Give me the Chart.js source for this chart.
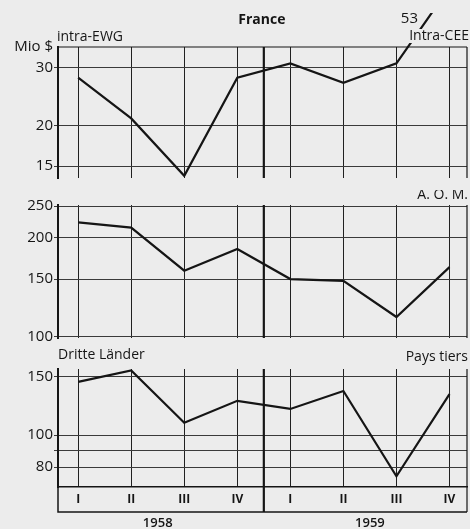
<!DOCTYPE html>
<html><head><meta charset="utf-8">
<script src="https://cdn.jsdelivr.net/npm/chart.js@4/dist/chart.umd.min.js"></script>
<style>
html,body{margin:0;padding:0;background:#ececec;}
#wrap{position:relative;width:470px;height:529px;overflow:hidden;background:#ececec;}
.p{position:absolute;left:0;width:470px;}
</style></head><body>
<div id="wrap">
<div class="p" style="top:0;height:190px"><canvas id="c1"></canvas></div>
<div class="p" style="top:190px;height:162px"><canvas id="c2"></canvas></div>
<div class="p" style="top:345px;height:184px"><canvas id="c3"></canvas></div>
</div>
<script>
// ---- data ----
const quarters = ['I','II','III','IV','I','II','III','IV'];
const years = ['1958','1959'];
const intraEWG = [28, 21, 14, 28, 31, 27, 31, 53];
const aom = [223, 215, 159, 185, 150, 148, 115, 163];
const paysTiers = [145, 157, 109, 127, 120, 136, 75, 133];
const ticks1 = [15, 20, 30];
const tickLabels1 = ['15', '20', '30'];
const ticks2 = [100, 150, 200, 250];
const tickLabels2 = ['100', '150', '200', '250'];
const ticks3 = [80, 90, 100, 150];
const tickLabels3 = ['80', '', '100', '150'];

Chart.defaults.font.family = "'Open Sans', 'DejaVu Sans', sans-serif";
Chart.defaults.color = '#111';

const INK = '#151515';

function txt(ctx, s, x, y, font, align, bg) {
  ctx.save();
  ctx.font = font;
  ctx.textAlign = align;
  ctx.textBaseline = 'middle';
  if (bg) {
    const w = ctx.measureText(s).width;
    let x0 = align === 'right' ? x - w : (align === 'center' ? x - w / 2 : x);
    ctx.fillStyle = '#ececec';
    ctx.fillRect(x0 - 1, y - 7, w + 2, 14);
  }
  ctx.fillStyle = INK;
  ctx.fillText(s, x, y);
  ctx.restore();
}

const deco = {
  id: 'deco',
  afterDraw(chart, args, o) {
    const ctx = chart.ctx, a = chart.chartArea, xs = chart.scales.x;
    const boxH = o.box ? 25 : 0;
    ctx.save();
    ctx.strokeStyle = INK;
    ctx.lineWidth = 1.2;
    ctx.beginPath();
    ctx.moveTo(a.right, a.top); ctx.lineTo(a.right, a.bottom + boxH);
    ctx.stroke();
    if (o.topBorder) {
      ctx.beginPath(); ctx.moveTo(a.left, a.top); ctx.lineTo(a.right, a.top); ctx.stroke();
    }
    const xd = xs.getPixelForValue(3.5);
    ctx.lineWidth = 2.2;
    ctx.beginPath(); ctx.moveTo(xd, a.top); ctx.lineTo(xd, a.bottom + boxH); ctx.stroke();
    if (o.box) {
      ctx.lineWidth = 1.5;
      ctx.beginPath();
      ctx.moveTo(a.left, a.bottom); ctx.lineTo(a.left, a.bottom + boxH);
      ctx.lineTo(a.right, a.bottom + boxH);
      ctx.stroke();
      years.forEach((y, i) => {
        txt(ctx, y, xs.getPixelForValue(1.5 + 4 * i), a.bottom + boxH + 11, '600 13px "Open Sans"', 'center');
      });
    }
    (o.labels || []).forEach(l => {
      const x = l.ref === 'left' ? a.left + l.dx : (l.ref === 'right' ? a.right + l.dx : xd + l.dx);
      txt(ctx, l.text, x, a.top + l.dy, l.font, l.align, l.bg);
    });
    ctx.restore();
  }
};

function panel(id, values, yMin, yMax, yTicks, yLabels, pad, opts) {
  const showX = !!opts.box;
  return new Chart(document.getElementById(id), {
    type: 'line',
    data: {
      datasets: [{
        data: values.map((v, i) => ({ x: i, y: v })),
        borderColor: INK,
        borderWidth: 2.2,
        pointRadius: 0,
        tension: 0,
        clip: opts.clip || 0
      }]
    },
    options: {
      responsive: true,
      maintainAspectRatio: false,
      animation: false,
      layout: { padding: pad },
      plugins: { legend: { display: false }, tooltip: { enabled: false }, deco: opts },
      scales: {
        x: {
          type: 'linear',
          min: -0.38, max: 7.33,
          afterBuildTicks: s => { s.ticks = quarters.map((q, i) => ({ value: i })); },
          afterFit: s => { s.height = showX ? 25 : 0; },
          ticks: {
            display: showX, autoSkip: false, maxRotation: 0, padding: 5,
            font: { size: 12, weight: 'bold' }, color: INK,
            callback: v => quarters[v]
          },
          grid: { color: '#202020', lineWidth: 1, drawTicks: false },
          border: { display: showX, color: INK, width: 1.5 }
        },
        y: {
          type: 'logarithmic',
          min: yMin, max: yMax,
          afterBuildTicks: s => { s.ticks = yTicks.map(v => ({ value: v })); },
          afterFit: s => { s.width = 58; },
          ticks: {
            autoSkip: false, padding: 1,
            font: { size: 15 }, color: INK,
            callback: (v, i) => yLabels[i]
          },
          grid: { color: '#3a3a3a', lineWidth: 1, tickLength: 4 },
          border: { color: INK, width: 2 }
        }
      }
    },
    plugins: [deco]
  });
}

panel('c1', intraEWG, 13.78, 34.8, ticks1, tickLabels1,
  { top: 47, bottom: 12, left: 0, right: 3 },
  { topBorder: true, clip: { left: 0, right: 0, top: 34, bottom: 0 },
    labels: [
      { text: 'France', ref: 'div', dx: -2, dy: -27, font: 'bold 14px "Open Sans"', align: 'center' },
      { text: 'Mio $', ref: 'left', dx: -5, dy: 0, font: '15px "Open Sans"', align: 'right' },
      { text: 'intra-EWG', ref: 'left', dx: -1, dy: -10, font: '14px "Open Sans"', align: 'left' },
      { text: 'Intra-CEE', ref: 'right', dx: 2, dy: -11, font: '14px "Open Sans"', align: 'right', bg: true },
      { text: '53', ref: 'right', dx: -49, dy: -28, font: '15px "Open Sans"', align: 'right' }
    ] });

panel('c2', aom, 99.3, 251.8, ticks2, tickLabels2,
  { top: 15, bottom: 14, left: 0, right: 3 },
  { labels: [
      { text: 'A. O. M.', ref: 'right', dx: 1, dy: -10, font: '14px "Open Sans"', align: 'right' }
    ] });

panel('c3', paysTiers, 69.6, 158.6, ticks3, tickLabels3,
  { top: 24, bottom: 17, left: 0, right: 3 },
  { box: true,
    labels: [
      { text: 'Dritte Länder', ref: 'left', dx: 0, dy: -14, font: '14px "Open Sans"', align: 'left' },
      { text: 'Pays tiers', ref: 'right', dx: 1, dy: -12, font: '14px "Open Sans"', align: 'right' }
    ] });
</script>
</body></html>
